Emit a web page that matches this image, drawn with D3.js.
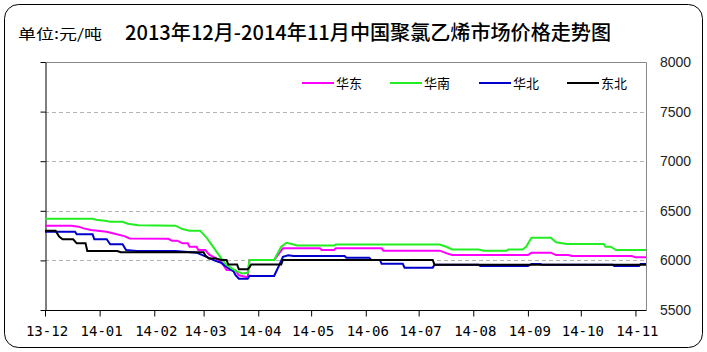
<!DOCTYPE html>
<html lang="zh">
<head>
    <meta charset="UTF-8">
    <title>聚氯乙烯市场价格走势图</title>
    <script src="https://d3js.org/d3.v7.min.js"></script>
    <style>
        body { margin: 0; background: #fff; }
        .grid { stroke: #b4b4b4; stroke-dasharray: 4,3; }
        .xlab { font-family: "DejaVu Sans Mono", monospace; font-size: 14px; fill: #000; }
        .ylab { font-family: "Liberation Sans", Arial, sans-serif; font-size: 14px; fill: #222; }
        .leg { font-family: "Noto Sans CJK SC", sans-serif; font-size: 13px; fill: #000; }
    </style>
</head>
<body>
<div id="chart"></div>
<script>
    // 数据 (元/吨)
    const huadong = [
        ["2013-12-01",6350],["2013-12-16",6350],["2013-12-20",6340],["2013-12-23",6323],["2013-12-27",6306],
        ["2014-01-05",6289],["2014-01-09",6272],["2014-01-15",6245],["2014-01-18",6222],["2014-02-09",6218],
        ["2014-02-11",6199],["2014-02-14",6199],["2014-02-17",6172],["2014-02-20",6172],["2014-02-21",6138],
        ["2014-02-25",6138],["2014-02-26",6104],["2014-03-02",6104],["2014-03-04",6060],["2014-03-08",6020],
        ["2014-03-11",5986],["2014-03-14",5902],["2014-03-19",5900],["2014-03-21",5850],["2014-03-26",5830],
        ["2014-03-27",6003],["2014-04-10",6003],["2014-04-15",6122],["2014-05-06",6122],["2014-05-07",6105],
        ["2014-05-14",6105],["2014-05-15",6122],["2014-06-10",6122],["2014-06-11",6098],["2014-07-13",6098],
        ["2014-07-17",6071],["2014-07-20",6054],["2014-09-01",6054],["2014-09-03",6078],["2014-09-14",6078],
        ["2014-09-17",6054],["2014-09-24",6054],["2014-09-26",6044],["2014-10-30",6044],["2014-11-01",6031],
        ["2014-11-07",6031]
    ];
    const huanan = [
        ["2013-12-01",6420],["2013-12-28",6420],["2013-12-30",6410],["2014-01-04",6400],["2014-01-07",6390],
        ["2014-01-14",6390],["2014-01-17",6370],["2014-01-23",6355],["2014-02-13",6350],["2014-02-17",6316],
        ["2014-02-21",6300],["2014-02-27",6300],["2014-03-03",6222],["2014-03-07",6121],["2014-03-11",6020],
        ["2014-03-14",5953],["2014-03-17",5920],["2014-03-20",5886],["2014-03-23",5869],["2014-03-26",5875],
        ["2014-03-27",6005],["2014-04-10",6005],["2014-04-14",6138],["2014-04-17",6178],["2014-04-20",6165],
        ["2014-04-23",6150],["2014-05-14",6150],["2014-05-15",6160],["2014-07-13",6160],["2014-07-17",6135],
        ["2014-07-20",6110],["2014-08-04",6110],["2014-08-07",6098],["2014-08-20",6098],["2014-08-21",6110],
        ["2014-08-29",6110],["2014-08-31",6138],["2014-09-03",6228],["2014-09-14",6228],["2014-09-17",6182],
        ["2014-09-23",6165],["2014-10-14",6165],["2014-10-15",6138],["2014-10-18",6138],["2014-10-21",6105],
        ["2014-11-07",6105]
    ];
    const huabei = [
        ["2013-12-01",6290],["2013-12-18",6290],["2013-12-19",6263],["2013-12-28",6263],["2013-12-29",6213],
        ["2014-01-05",6213],["2014-01-07",6162],["2014-01-14",6162],["2014-01-16",6105],["2014-01-22",6095],
        ["2014-02-13",6095],["2014-02-25",6078],["2014-03-01",6048],["2014-03-07",6000],["2014-03-11",5975],
        ["2014-03-15",5921],["2014-03-18",5890],["2014-03-19",5853],["2014-03-21",5815],["2014-03-26",5815],
        ["2014-03-27",5843],["2014-04-10",5843],["2014-04-13",5956],["2014-04-15",6037],["2014-04-18",6051],
        ["2014-04-21",6044],["2014-05-20",6044],["2014-05-21",6027],["2014-06-03",6027],["2014-06-04",6005],
        ["2014-06-09",6005],["2014-06-10",5965],["2014-06-22",5965],["2014-06-23",5927],["2014-07-09",5927],
        ["2014-07-10",5956],["2014-08-04",5956],["2014-08-05",5943],["2014-09-01",5943],["2014-09-03",5963],
        ["2014-09-08",5963],["2014-09-09",5956],["2014-10-19",5956],["2014-10-20",5943],["2014-11-03",5943],
        ["2014-11-04",5963],["2014-11-07",5963]
    ];
    const dongbei = [
        ["2013-12-01",6300],["2013-12-07",6300],["2013-12-09",6240],["2013-12-11",6213],["2013-12-17",6213],
        ["2013-12-19",6172],["2013-12-24",6172],["2013-12-25",6095],["2014-01-11",6095],["2014-01-13",6082],
        ["2014-03-01",6082],["2014-03-02",6048],["2014-03-04",6020],["2014-03-08",6020],["2014-03-11",6004],
        ["2014-03-14",6004],["2014-03-15",5958],["2014-03-20",5958],["2014-03-21",5910],["2014-03-26",5910],
        ["2014-03-27",5930],["2014-03-28",5958],["2014-04-14",5958],["2014-04-15",6004],["2014-07-09",6004],
        ["2014-07-10",5956],["2014-11-07",5956]
    ];
    const seriesNames = ["华东", "华南", "华北", "东北"];
    const xLabels = ["13-12","14-01","14-02","14-03","14-04","14-05","14-06","14-07","14-08","14-09","14-10","14-11"];
    const yTicks = [5500, 6000, 6500, 7000, 7500, 8000];

    const W = 707, H = 352;
    const plot = { left: 45, right: 646, top: 62, bottom: 310 };
    const colors = ["#ff00ff", "#22ee22", "#0000cc", "#000000"];

    const parse = d3.timeParse("%Y-%m-%d");
    const series = [huadong, huanan, huabei, dongbei].map((arr, i) => ({
        name: seriesNames[i],
        color: colors[i],
        values: arr.map(d => ({ date: parse(d[0]), v: d[1] }))
    }));

    const svg = d3.select("#chart").append("svg")
        .attr("width", W).attr("height", H);

    // 外框
    svg.append("rect")
        .attr("x", 4.5).attr("y", 4.5)
        .attr("width", W - 9).attr("height", H - 9)
        .attr("rx", 14).attr("ry", 14)
        .attr("fill", "#fff").attr("stroke", "#000");

    const x = d3.scaleTime()
        .domain([parse("2013-12-01"), parse("2014-11-07")])
        .range([plot.left, plot.right]);
    const y = d3.scaleLinear()
        .domain([5500, 8000])
        .range([plot.bottom, plot.top]);

    // 网格线
    svg.selectAll(".grid")
        .data(yTicks.filter(t => t > 5500 && t < 8000))
        .enter().append("line")
        .attr("class", "grid")
        .attr("x1", plot.left).attr("x2", plot.right)
        .attr("y1", d => Math.round(y(d)) + 0.5).attr("y2", d => Math.round(y(d)) + 0.5);

    // 上、右边框
    svg.append("path")
        .attr("d", `M${plot.left},${plot.top + 0.5}H${plot.right + 0.5}V${plot.bottom}`)
        .attr("fill", "none").attr("stroke", "#888");

    // 左轴 (只有刻度)
    svg.append("g")
        .attr("transform", `translate(${plot.left + 0.5},0)`)
        .call(d3.axisLeft(y).tickValues(yTicks).tickSize(5).tickSizeOuter(0).tickFormat(""))
        .call(g => g.select(".domain").attr("stroke", "#000"));

    // 右侧标签
    svg.selectAll(".ylab")
        .data(yTicks)
        .enter().append("text")
        .attr("class", "ylab")
        .attr("x", 660)
        .attr("y", d => y(d))
        .attr("dy", "0.36em")
        .text(d => d);

    // 底部轴
    const months = d3.timeMonth.range(parse("2013-12-01"), parse("2014-11-02"));
    svg.append("g")
        .attr("transform", `translate(0,${plot.bottom + 0.5})`)
        .call(d3.axisBottom(x).tickValues(months).tickSize(6).tickSizeOuter(0).tickFormat(""))
        .call(g => g.select(".domain").attr("d", `M${plot.left},0H${plot.right + 0.5}`));

    svg.selectAll(".xlab")
        .data(months)
        .enter().append("text")
        .attr("class", "xlab")
        .attr("x", d => x(d) + 2)
        .attr("y", 336)
        .attr("text-anchor", "middle")
        .text((d, i) => xLabels[i]);

    // 折线
    const line = d3.line()
        .x(d => x(d.date))
        .y(d => y(d.v));

    svg.selectAll(".series")
        .data([series[0], series[2], series[1], series[3]])
        .enter().append("path")
        .attr("class", "series")
        .attr("d", d => line(d.values))
        .attr("fill", "none")
        .attr("stroke", d => d.color)
        .attr("stroke-width", 2)
        .attr("stroke-linejoin", "miter");

    // 图例
    const legX = [302, 390, 479, 567];
    const leg = svg.selectAll(".legItem")
        .data(series)
        .enter().append("g")
        .attr("transform", (d, i) => `translate(${legX[i]},83)`);
    leg.append("line")
        .attr("x1", 0).attr("x2", 32)
        .attr("stroke", d => d.color).attr("stroke-width", 2);
    leg.append("text")
        .attr("class", "leg")
        .attr("x", 34).attr("dy", "0.36em")
        .text(d => d.name);

    // 标题
    svg.append("text")
        .attr("x", 18).attr("y", 39)
        .attr("font-family", "Noto Sans CJK SC, sans-serif")
        .attr("font-size", 14)
        .attr("textLength", 84)
        .attr("lengthAdjust", "spacingAndGlyphs")
        .text("单位:元/吨");
    svg.append("text")
        .attr("x", 125).attr("y", 40)
        .attr("font-family", "Noto Sans CJK SC, sans-serif")
        .attr("font-size", 20)
        .attr("font-weight", 500)
        .attr("textLength", 486)
        .attr("lengthAdjust", "spacingAndGlyphs")
        .text("2013年12月-2014年11月中国聚氯乙烯市场价格走势图");
</script>
</body>
</html>
